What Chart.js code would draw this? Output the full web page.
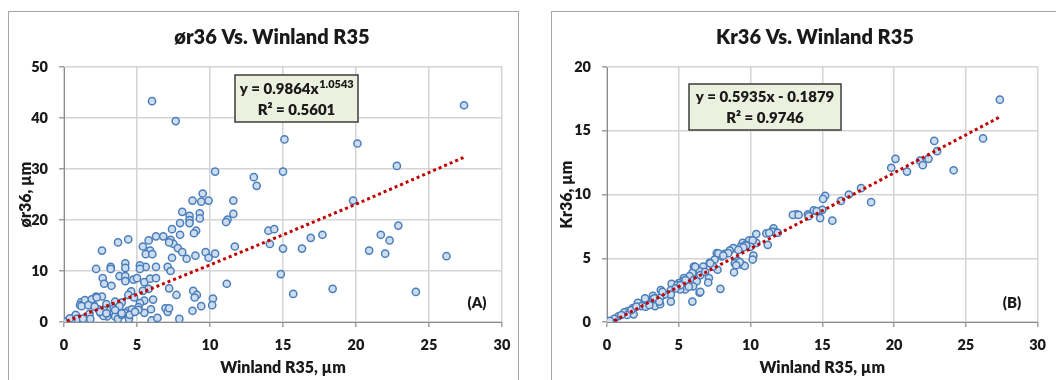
<!DOCTYPE html>
<html>
<head>
<meta charset="utf-8">
<script src="https://cdn.jsdelivr.net/npm/chart.js@4.4.1/dist/chart.umd.min.js"></script>
<style>
html, body { margin: 0; padding: 0; background: #fff; overflow: hidden; }
#wrap { position: relative; width: 1056px; height: 380px; }
.frame { position: absolute; top: 11px; height: 400px; border: 1px solid #a6a6a6; }
.cv { position: absolute; top: 0; }
</style>
</head>
<body>
<div id="wrap">
  <div class="frame" style="left:8px;width:509px"></div>
  <div class="frame" style="left:551px;width:520px"></div>
  <canvas id="chartA" class="cv" style="left:0" width="528" height="380"></canvas>
  <canvas id="chartB" class="cv" style="left:528px" width="528" height="380"></canvas>
</div>
<script>
// ─── Data: panel A (ør36 vs Winland R35) ─────────────────────────────────────
const xA = [6.03, 7.65, 27.4, 15.1, 20.1, 22.8, 15.0, 10.35, 13.0, 13.2, 9.5, 8.8, 9.4, 9.9, 11.6, 19.8,
  8.1, 9.3, 8.6, 11.6, 9.3, 11.2, 11.1, 8.6, 8.6, 7.95, 7.4, 9.05, 8.9, 7.95, 6.3, 6.8, 14.0, 14.4, 17.7,
  21.7, 22.9, 16.9, 22.3, 4.4, 3.7, 5.8, 7.3, 7.5, 7.2, 5.4, 7.8, 8.1, 5.9, 5.6, 6.05, 2.6, 14.1, 11.7,
  15.0, 16.3, 20.9, 22.0, 9.7, 10.35, 9.0, 9.9, 8.4, 7.4, 26.2, 6.3, 5.6, 5.2, 5.2, 4.2, 4.2, 3.2, 3.2,
  2.2, 7.1, 7.3, 2.65, 2.75, 3.8, 4.2, 4.2, 4.75, 5.0, 5.5, 5.9, 6.3, 3.25, 11.15, 7.2, 5.8, 4.6, 5.4,
  8.85, 9.1, 7.7, 8.95, 10.2, 14.85, 18.4, 15.7, 24.1, 4.4, 4.8, 6.1, 2.2, 2.6, 1.55, 1.17, 1.1, 2.05,
  2.9, 3.5, 3.95, 5.5, 5.2, 5.1, 9.4, 10.15, 6.95, 7.1, 8.8, 7.2, 5.96, 5.5, 4.4, 4.15, 3.4, 2.75, 2.5,
  1.75, 0.8, 3.5, 2.95, 2.7, 1.8, 0.87, 0.5, 0.2, 4.45, 3.7, 6.0, 6.4, 7.9, 1.3, 3.4, 3.8, 4.65, 5.1,
  3.95, 4.5, 2.35, 1.44, 1.9, 2.24, 1.2, 1.67, 2.1, 2.47, 2.9, 3.5, 3.95, 4.86, 0.4];
const yA = [43.3, 39.4, 42.5, 35.8, 35.0, 30.6, 29.5, 29.5, 28.4, 26.7, 25.2, 23.8, 23.6, 23.8, 23.8, 23.8,
  21.6, 21.3, 20.8, 21.2, 20.3, 20.1, 19.6, 20.0, 19.4, 19.4, 18.2, 17.9, 17.4, 17.1, 16.8, 16.8, 17.9, 18.2, 17.1,
  17.1, 18.9, 16.5, 16.0, 16.2, 15.6, 16.0, 16.1, 15.3, 15.6, 14.8, 14.5, 13.7, 14.0, 13.3, 13.3, 14.0, 15.3, 14.8,
  14.4, 14.4, 14.0, 13.4, 13.7, 13.4, 13.0, 12.6, 12.4, 12.6, 12.9, 10.8, 10.8, 11.1, 10.4, 11.5, 10.6, 10.8, 10.4,
  10.4, 10.8, 10.0, 8.6, 7.5, 9.0, 9.0, 8.0, 8.3, 8.6, 7.8, 8.5, 8.6, 7.1, 7.5, 6.6, 6.5, 6.0, 6.1,
  6.1, 5.3, 5.3, 4.8, 4.6, 9.4, 6.5, 5.5, 5.9, 5.3, 4.8, 4.4, 5.0, 5.0, 4.0, 3.9, 3.3, 3.2,
  3.5, 4.0, 3.8, 4.2, 3.7, 2.9, 3.1, 3.3, 2.7, 2.0, 2.2, 2.7, 2.5, 1.8, 2.2, 1.8, 2.0, 2.3, 1.8,
  1.6, 1.4, 1.1, 1.1, 1.2, 0.6, 0.6, 0.3, 0.2, 0.6, 0.6, 0.3, 0.8, 0.6, 0.65, 2.7, 3.1, 2.5, 2.4,
  1.4, 1.4, 2.5, 4.3, 4.45, 4.8, 3.1, 3.3, 3.0, 2.0, 1.7, 2.35, 1.7, 2.0, 0.7];
// power trend
const trendAx = [0.2, 5, 10, 15, 20, 27.4];
const trendAy = [0.18, 5.4, 11.2, 17.1, 23.1, 32.3];

// ─── Data: panel B (Kr36 vs Winland R35) ─────────────────────────────────────
const xB = [27.37, 26.2, 22.8, 23.0, 22.4, 21.8, 22.0, 20.1, 19.8, 20.9, 24.15, 17.7, 16.85, 18.4, 16.3,
  15.2, 15.05, 15.0, 14.4, 14.0, 14.05, 14.85, 15.7, 13.2, 12.95, 11.6, 11.7, 11.1, 11.2, 10.4, 10.4, 9.9,
  9.45, 9.65, 9.3, 8.8, 8.55, 8.2, 7.65, 8.0, 7.5, 7.15, 6.7, 6.05, 10.2, 10.15, 9.1, 8.9, 9.4, 7.7, 8.85,
  7.1, 7.05, 6.45, 5.95, 5.75, 5.35, 5.3, 5.0, 6.05, 6.25, 5.45, 6.0, 6.45, 7.9, 5.95, 4.5, 4.45, 4.45,
  4.45, 3.75, 4.0, 3.7, 3.2, 3.2, 2.7, 2.65, 2.15, 2.4, 3.35, 3.7, 2.7, 1.8, 1.85, 1.45, 1.2, 1.4, 0.8,
  0.5, 0.2, 4.9, 5.1, 7.4, 1.0, 1.7, 2.04, 2.95, 3.3, 3.64, 3.87, 4.78, 5.13, 5.47, 5.7, 6.15, 6.5, 6.5,
  6.84, 7.19, 7.76, 14.6, 13.35, 11.5, 11.3, 11.9, 10.15, 10.0, 9.7, 9.5, 9.15, 8.45, 8.1, 9.6, 9.25, 9.0];
const yB = [17.44, 14.4, 14.2, 13.4, 12.8, 12.65, 12.3, 12.8, 12.1, 11.8, 11.9, 10.5, 10.0, 9.4, 9.5,
  9.9, 9.65, 8.8, 8.75, 8.45, 8.3, 8.15, 7.95, 8.45, 8.4, 7.35, 7.05, 6.95, 6.05, 6.9, 6.2, 6.4,
  6.2, 6.05, 5.9, 5.8, 5.6, 5.35, 5.4, 5.15, 4.9, 4.65, 4.35, 4.35, 5.2, 4.9, 4.8, 4.6, 4.5, 4.1, 3.9,
  3.45, 3.1, 4.0, 3.85, 3.6, 3.45, 3.2, 3.05, 3.3, 3.2, 2.55, 2.8, 2.3, 2.6, 1.6, 3.0, 2.5, 2.15,
  1.6, 2.5, 2.15, 1.9, 2.05, 1.75, 1.6, 1.85, 1.5, 1.25, 1.25, 1.4, 1.2, 1.1, 0.6, 0.85, 0.75, 0.55, 0.45,
  0.25, 0.1, 2.9, 2.55, 4.35, 0.55, 0.94, 1.2, 1.33, 1.85, 1.6, 2.37, 2.64, 2.9, 3.29, 2.77, 4.33, 2.37, 3.68,
  3.94, 4.6, 5.38, 8.7, 8.4, 7.1, 7.0, 7.0, 6.4, 5.9, 6.0, 5.85, 5.65, 5.4, 5.2, 4.4, 4.7, 4.45];
const trendBx = [0.5, 27.4];
const trendBy = [0.1, 16.1];

const xTicks = [0, 5, 10, 15, 20, 25, 30];

// ─── Shared styling ──────────────────────────────────────────────────────────
const FONT = 'Lato, "Open Sans", sans-serif';
const W = '800';
const INK = '#1a1a1a';

function pairs(xs, ys) {
  return xs.map(function(x, i) { return { x: x, y: ys[i] }; });
}

function scales(yTitle, yMax, yStep, yTitlePad) {
  return {
    x: {
      type: 'linear', min: 0, max: 30,
      afterBuildTicks: function(s) { s.ticks = xTicks.map(function(v) { return { value: v }; }); },
      ticks: { color: INK, font: { family: FONT, size: 14.5, weight: W }, padding: 10 },
      grid: { color: '#d4d4d4', lineWidth: 1.5, tickLength: 5, tickColor: '#a0a0a0' },
      border: { color: '#8c8c8c', width: 1 },
      title: { display: true, text: 'Winland R35, µm', color: INK,
               font: { family: FONT, size: 16, weight: W }, padding: { top: 0, bottom: 2.6 } },
      afterFit: function(s) { s.height = 58; }
    },
    y: {
      type: 'linear', min: 0, max: yMax,
      ticks: { stepSize: yStep, color: INK, font: { family: FONT, size: 14.5, weight: W }, padding: 11 },
      grid: { color: '#d4d4d4', lineWidth: 1.5, tickLength: 5, tickColor: '#a0a0a0' },
      border: { color: '#8c8c8c', width: 1 },
      title: { display: true, text: yTitle, color: INK,
               font: { family: FONT, size: 16, weight: W }, padding: { top: yTitlePad, bottom: 0 } },
      afterFit: function(s) { s.width = 56; }
    }
  };
}

// title, equation box and panel letter
function panelPlugin(p) {
  return {
    id: 'panelText',
    afterDraw: function(chart) {
      var ctx = chart.ctx;
      ctx.save();
      ctx.fillStyle = INK;
      ctx.textBaseline = 'middle';
      ctx.textAlign = 'center';
      ctx.font = W + ' 20px ' + FONT;
      ctx.fillText(p.title, p.titleX, 38);

      var b = p.box;
      ctx.fillStyle = '#ebf1de';
      ctx.fillRect(b[0], b[1], b[2], b[3]);
      ctx.strokeStyle = '#3c3c3c';
      ctx.lineWidth = 1.5;
      ctx.strokeRect(b[0], b[1], b[2], b[3]);

      var cx = b[0] + b[2] / 2;
      ctx.fillStyle = INK;
      ctx.font = W + ' 15px ' + FONT;
      if (p.sup) {
        var w1 = ctx.measureText(p.eq).width;
        ctx.font = W + ' 11px ' + FONT;
        var w2 = ctx.measureText(p.sup).width;
        var x0 = cx - (w1 + w2) / 2;
        ctx.textAlign = 'left';
        ctx.font = W + ' 15px ' + FONT;
        ctx.fillText(p.eq, x0, p.line1);
        ctx.font = W + ' 11px ' + FONT;
        ctx.fillText(p.sup, x0 + w1 + 0.5, p.line1 - 5);
        ctx.textAlign = 'center';
      } else {
        ctx.fillText(p.eq, cx, p.line1);
      }
      ctx.font = W + ' 15px ' + FONT;
      ctx.fillText(p.r2, cx, p.line2);

      ctx.font = W + ' 15px ' + FONT;
      ctx.fillText(p.letter, p.letterX, 303);
      ctx.restore();
    }
  };
}

function makeChart(id, pts, trend, yTitle, yMax, yStep, yTitlePad, pad, panel) {
  return new Chart(document.getElementById(id), {
    type: 'scatter',
    plugins: [panelPlugin(panel)],
    data: {
      datasets: [
        {
          data: trend,
          showLine: true,
          pointRadius: 0,
          borderColor: '#c00000',
          borderWidth: 3,
          borderDash: [3, 3],
          fill: false,
          order: 0
        },
        {
          data: pts,
          pointRadius: 3.6,
          pointBorderWidth: 1.5,
          pointBorderColor: '#4a7ebb',
          pointBackgroundColor: '#cddcef',
          order: 1
        }
      ]
    },
    options: {
      responsive: false,
      animation: false,
      layout: { padding: pad },
      plugins: { legend: { display: false }, tooltip: { enabled: false }, title: { display: false } },
      scales: scales(yTitle, yMax, yStep, yTitlePad)
    }
  });
}

makeChart('chartA', pairs(xA, yA), pairs(trendAx, trendAy), 'ør36, µm', 50, 10, 8.6,
  { left: 8, right: 26, top: 67, bottom: 0 },
  { title: 'ør36 Vs. Winland R35', titleX: 272, box: [235, 75, 123, 47],
    eq: 'y = 0.9864x', sup: '1.0543', r2: 'R² = 0.5601', line1: 89, line2: 110,
    letter: '(A)', letterX: 477 });

makeChart('chartB', pairs(xB, yB), pairs(trendBx, trendBy), 'Kr36, µm', 20, 5, 6.6,
  { left: 23, right: 12, top: 67, bottom: 0 },
  { title: 'Kr36 Vs. Winland R35', titleX: 287, box: [161, 84, 152, 46],
    eq: 'y = 0.5935x - 0.1879', sup: null, r2: 'R² = 0.9746', line1: 97, line2: 118,
    letter: '(B)', letterX: 484 });
</script>
</body>
</html>
